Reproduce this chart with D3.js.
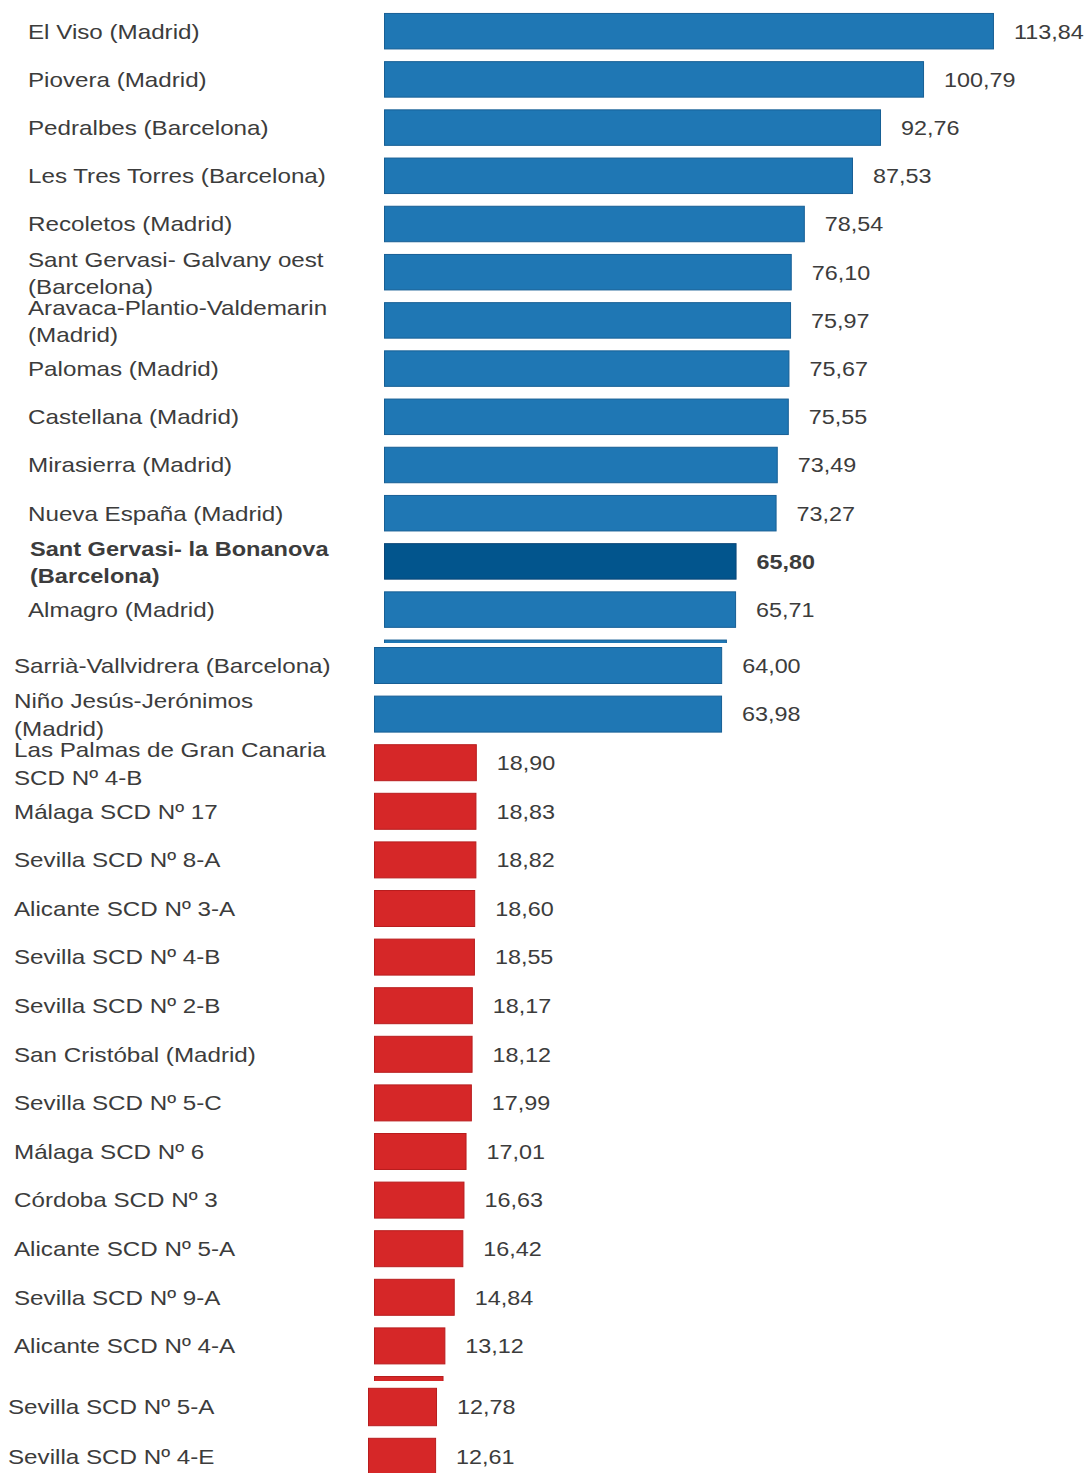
<!DOCTYPE html>
<html>
<head>
<meta charset="utf-8">
<script src="https://cdn.jsdelivr.net/npm/d3@7"></script>
<style>
  html, body { margin: 0; padding: 0; background: #fff; }
  svg { display: block; }
  text { font-family: "Liberation Sans", Arial, sans-serif; fill: #3c3c3c; }
</style>
</head>
<body>
<svg id="chart" width="1088" height="1473"></svg>
<script>
// ---- Data ----
const categories = [
  "El Viso (Madrid)",
  "Piovera (Madrid)",
  "Pedralbes (Barcelona)",
  "Les Tres Torres (Barcelona)",
  "Recoletos (Madrid)",
  "Sant Gervasi- Galvany oest|(Barcelona)",
  "Aravaca-Plantio-Valdemarin|(Madrid)",
  "Palomas (Madrid)",
  "Castellana (Madrid)",
  "Mirasierra (Madrid)",
  "Nueva España (Madrid)",
  "Sant Gervasi- la Bonanova|(Barcelona)",
  "Almagro (Madrid)",
  "Sarrià-Vallvidrera (Barcelona)",
  "Niño Jesús-Jerónimos|(Madrid)",
  "Las Palmas de Gran Canaria|SCD Nº 4-B",
  "Málaga SCD Nº 17",
  "Sevilla SCD Nº 8-A",
  "Alicante SCD Nº 3-A",
  "Sevilla SCD Nº 4-B",
  "Sevilla SCD Nº 2-B",
  "San Cristóbal (Madrid)",
  "Sevilla SCD Nº 5-C",
  "Málaga SCD Nº 6",
  "Córdoba SCD Nº 3",
  "Alicante SCD Nº 5-A",
  "Sevilla SCD Nº 9-A",
  "Alicante SCD Nº 4-A",
  "Sevilla SCD Nº 5-A",
  "Sevilla SCD Nº 4-E"
];
const values = [
  113.84, 100.79, 92.76, 87.53, 78.54, 76.10, 75.97, 75.67, 75.55, 73.49,
  73.27, 65.80, 65.71, 64.00, 63.98,
  18.90, 18.83, 18.82, 18.60, 18.55, 18.17, 18.12, 17.99, 17.01, 16.63,
  16.42, 14.84, 13.12, 12.78, 12.61
];
// group: "rich" (blue), "highlight" (dark blue, bold), "poor" (red)
const groups = [
  "rich","rich","rich","rich","rich","rich","rich","rich","rich","rich",
  "rich","highlight","rich","rich","rich",
  "poor","poor","poor","poor","poor","poor","poor","poor","poor","poor",
  "poor","poor","poor","poor","poor"
];

// ---- Styles ----
const fills = { rich: "#1f77b4", highlight: "#02558d", poor: "#d62728" };
const strokes = { rich: "#175f95", highlight: "#0a4678", poor: "#b81d1e" };
const FONT = 20.5, SX_LAB = 1.18, SX_BOLD = 1.15, SX_VAL = 1.14;

// ---- Panels (the picture is made of three stacked pieces) ----
// the bar list may include one extra row whose bar is only a cut-off sliver.
const panels = [
  { first: 0, last: 13, labelLast: 12, top: 7.1, step: 48.2, pad: 0.243, x0: 384, pxPerUnit: 5.358, labelX: 28, clipY0: 0, clipY1: 643 },
  { first: 13, last: 28, labelLast: 27, top: 641.2, step: 48.6, pad: 0.239, x0: 374, pxPerUnit: 5.44, labelX: 14, clipY0: 643, clipY1: 1381 },
  { first: 28, last: 29, labelLast: 29, top: 1382, step: 50, pad: 0.232, x0: 368, pxPerUnit: 5.4, labelX: 8, clipY0: 1382, clipY1: 1473 }
];

const locale = d3.formatLocale({ decimal: ",", thousands: ".", grouping: [3], currency: ["", "€"] });
const fmt = locale.format(".2f");

const svg = d3.select("#chart");
const defs = svg.append("defs");

panels.forEach((p, pi) => {
  const idx = d3.range(p.first, p.last + 1);
  const labIdx = d3.range(p.first, p.labelLast + 1);
  const n = idx.length;
  const y = d3.scaleBand()
    .domain(idx)
    .range([p.top, p.top + n * p.step])
    .paddingInner(p.pad)
    .paddingOuter(p.pad / 2);
  const x = d3.scaleLinear()
    .domain([0, 120])
    .range([p.x0, p.x0 + 120 * p.pxPerUnit]);

  defs.append("clipPath").attr("id", "clip" + pi)
    .append("rect")
    .attr("x", 0).attr("y", p.clipY0)
    .attr("width", 1088).attr("height", p.clipY1 - p.clipY0);

  const g = svg.append("g").attr("clip-path", `url(#clip${pi})`);

  // bars
  g.selectAll("rect.bar").data(idx).join("rect")
    .attr("class", "bar")
    .attr("x", x(0) + 0.5)
    .attr("y", i => y(i) + 0.5)
    .attr("width", i => x(values[i]) - x(0) - 1)
    .attr("height", y.bandwidth() - 1)
    .attr("fill", i => fills[groups[i]])
    .attr("stroke", i => strokes[groups[i]])
    .attr("stroke-width", 1);

  // value labels
  g.selectAll("text.val").data(labIdx).join("text")
    .attr("class", "val")
    .attr("transform", i => `translate(${x(values[i]) + 20},${y(i) + y.bandwidth() / 2}) scale(${SX_VAL},1)`)
    .attr("dy", "0.36em")
    .style("font-size", FONT + "px")
    .style("font-weight", i => groups[i] === "highlight" ? "bold" : "normal")
    .text(i => fmt(values[i]));

  // category labels
  const lab = g.selectAll("text.cat").data(labIdx).join("text")
    .attr("class", "cat")
    .attr("transform", i => `translate(${p.labelX + (groups[i] === "highlight" ? 2 : 0)},${y(i) + y.bandwidth() / 2}) scale(${groups[i] === "highlight" ? SX_BOLD : SX_LAB},1)`)
    .style("font-size", FONT + "px")
    .style("font-weight", i => groups[i] === "highlight" ? "bold" : "normal");
  lab.each(function(i) {
    const lines = categories[i].split("|");
    const t = d3.select(this);
    if (lines.length === 1) {
      t.append("tspan").attr("x", 0).attr("dy", "0.36em").text(lines[0]);
    } else {
      t.append("tspan").attr("x", 0).attr("y", -13).attr("dy", "0.36em").text(lines[0]);
      t.append("tspan").attr("x", 0).attr("y", 14.5).attr("dy", "0.36em").text(lines[1]);
    }
  });
});
</script>
</body>
</html>
